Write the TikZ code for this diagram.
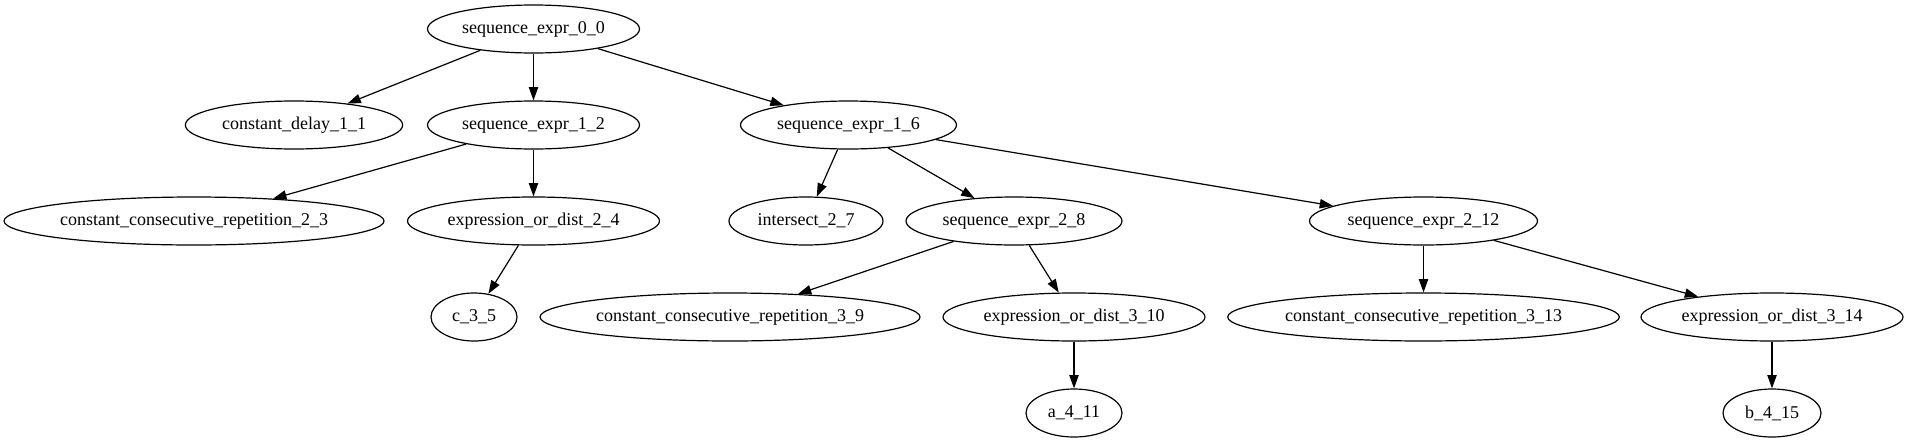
\documentclass[tikz,border=0pt]{standalone}
\usepackage{fontspec}
\setmainfont{Liberation Serif}
\usetikzlibrary{arrows.meta,shapes.geometric}
\begin{document}
\begin{tikzpicture}[x=0.75pt,y=-0.75pt,
  gnode/.style={draw, ellipse, inner sep=0pt, minimum height=36pt, line width=0.9pt,
    font=\fontsize{13.5}{16}\selectfont},
  garrow/.style={-{Triangle[length=10pt,width=7pt]}, line width=0.9pt}]
\useasboundingbox (0,0) rectangle (1910,443);
\node[gnode, minimum width=159pt] (s00) at (533.5,29) {sequence\_expr\_0\_0};
\node[gnode, minimum width=163pt] (cd11) at (294,125) {constant\_delay\_1\_1};
\node[gnode, minimum width=159pt] (s12) at (533.5,125) {sequence\_expr\_1\_2};
\node[gnode, minimum width=162pt] (s16) at (848.5,125) {sequence\_expr\_1\_6};
\node[gnode, minimum width=285pt] (ccr23) at (194,221) {constant\_consecutive\_repetition\_2\_3};
\node[gnode, minimum width=189pt] (eod24) at (533.5,221) {expression\_or\_dist\_2\_4};
\node[gnode, minimum width=115.5pt] (i27) at (806,221) {intersect\_2\_7};
\node[gnode, minimum width=162pt] (s28) at (1014,221) {sequence\_expr\_2\_8};
\node[gnode, minimum width=171pt] (s212) at (1423.5,221) {sequence\_expr\_2\_12};
\node[gnode, minimum width=64.5pt] (c35) at (474,317) {c\_3\_5};
\node[gnode, minimum width=285pt] (ccr39) at (730,317) {constant\_consecutive\_repetition\_3\_9};
\node[gnode, minimum width=196.5pt] (eod310) at (1074,317) {expression\_or\_dist\_3\_10};
\node[gnode, minimum width=291pt] (ccr313) at (1423.5,317) {constant\_consecutive\_repetition\_3\_13};
\node[gnode, minimum width=196.5pt] (eod314) at (1772,317) {expression\_or\_dist\_3\_14};
\node[gnode, minimum width=72pt] (a411) at (1074,413) {a\_4\_11};
\node[gnode, minimum width=73.5pt] (b415) at (1772,413) {b\_4\_15};
\draw[garrow] (s00) -- (cd11);
\draw[garrow] (s00) -- (s12);
\draw[garrow] (s00) -- (s16);
\draw[garrow] (s12) -- (ccr23);
\draw[garrow] (s12) -- (eod24);
\draw[garrow] (eod24) -- (c35);
\draw[garrow] (s16) -- (i27);
\draw[garrow] (s16) -- (s28);
\draw[garrow] (s16) -- (s212);
\draw[garrow] (s28) -- (ccr39);
\draw[garrow] (s28) -- (eod310);
\draw[garrow] (eod310) -- (a411);
\draw[garrow] (s212) -- (ccr313);
\draw[garrow] (s212) -- (eod314);
\draw[garrow] (eod314) -- (b415);
\end{tikzpicture}
\end{document}
